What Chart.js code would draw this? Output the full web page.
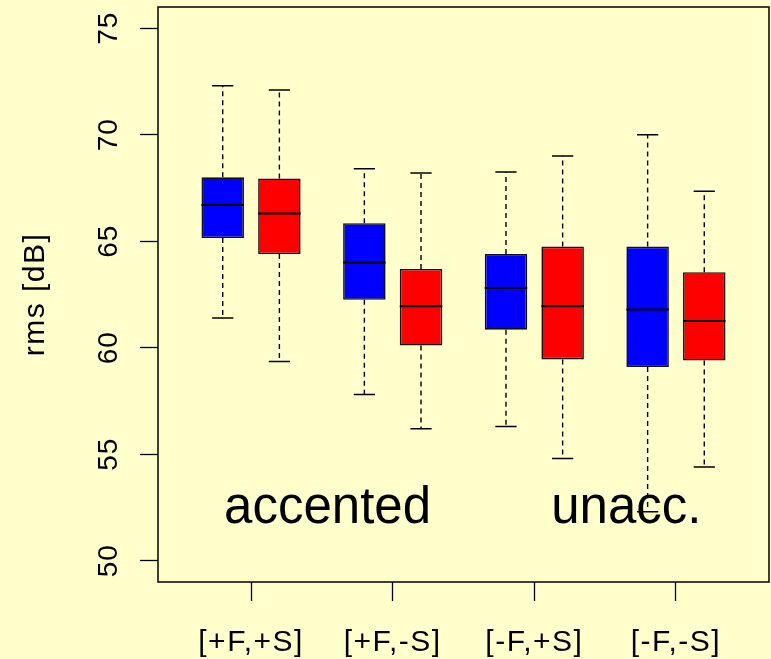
<!DOCTYPE html>
<html>
<head>
<meta charset="utf-8">
<script src="https://cdn.jsdelivr.net/npm/chart.js@4.4.1/dist/chart.umd.min.js"></script>
<style>
  html, body { margin: 0; padding: 0; background: #ffffcc; }
  canvas { display: block; }
</style>
</head>
<body>
<canvas id="chart" width="771" height="659"></canvas>
<script>
const categories = ['[+F,+S]', '[+F,-S]', '[-F,+S]', '[-F,-S]'];
const yTicks = [50, 55, 60, 65, 70, 75];

// first box of each pair (blue)
const blueLow  = [61.4, 57.8, 56.3, 52.3];
const blueQ1   = [65.15, 62.25, 60.85, 59.1];
const blueMed  = [66.7, 64.0, 62.8, 61.8];
const blueQ3   = [68.0, 65.85, 64.4, 64.75];
const blueHigh = [72.3, 68.4, 68.25, 70.0];

// second box of each pair (red)
const redLow  = [59.35, 56.2, 54.8, 54.4];
const redQ1   = [64.4, 60.1, 59.45, 59.4];
const redMed  = [66.3, 61.95, 61.95, 61.25];
const redQ3   = [67.95, 63.7, 64.75, 63.55];
const redHigh = [72.1, 68.2, 69.0, 67.35];

const groupNotes = ['accented', 'unacc.'];

const series = [
  {lo: blueLow, q1: blueQ1, med: blueMed, q3: blueQ3, hi: blueHigh},
  {lo: redLow, q1: redQ1, med: redMed, q3: redQ3, hi: redHigh}
];

function boxData(q1, q3) {
  return categories.map((c, i) => ({x: i + 1, y: [q1[i], q3[i]]}));
}

const FONT = '"Liberation Sans", Arial, sans-serif';

const boxExtras = {
  id: 'boxExtras',
  beforeDraw(chart) {
    // R's labels are a bit wider spaced than Arial
    chart.ctx.letterSpacing = '1.5px';
  },
  beforeDatasetsDraw(chart) {
    chart.ctx.letterSpacing = '0px';
  },
  afterDatasetsDraw(chart) {
    const ctx = chart.ctx;
    const ys = chart.scales.y;
    series.forEach((s, d) => {
      chart.getDatasetMeta(d).data.forEach((bar, i) => {
        const cx = bar.x, w = bar.width;
        ctx.save();
        ctx.strokeStyle = '#000';
        ctx.lineWidth = 1.4;
        ctx.setLineDash([5, 4]);
        ctx.beginPath();
        ctx.moveTo(cx, ys.getPixelForValue(s.q3[i]));
        ctx.lineTo(cx, ys.getPixelForValue(s.hi[i]));
        ctx.moveTo(cx, ys.getPixelForValue(s.q1[i]));
        ctx.lineTo(cx, ys.getPixelForValue(s.lo[i]));
        ctx.stroke();
        ctx.setLineDash([]);
        ctx.lineWidth = 1.5;
        ctx.beginPath();
        [s.hi[i], s.lo[i]].forEach(v => {
          const py = ys.getPixelForValue(v);
          ctx.moveTo(cx - w / 4, py);
          ctx.lineTo(cx + w / 4, py);
        });
        ctx.stroke();
        ctx.lineWidth = 2;
        ctx.beginPath();
        const my = ys.getPixelForValue(s.med[i]);
        ctx.moveTo(cx - w / 2, my);
        ctx.lineTo(cx + w / 2, my);
        ctx.stroke();
        ctx.restore();
      });
    });
  },
  afterDraw(chart) {
    const ctx = chart.ctx;
    const a = chart.chartArea;
    const xs = chart.scales.x, ys = chart.scales.y;
    ctx.save();
    ctx.letterSpacing = '0px';
    // frame
    ctx.strokeStyle = '#000';
    ctx.lineWidth = 1.5;
    ctx.strokeRect(a.left, a.top, a.right - a.left, a.bottom - a.top);
    // rotated y tick labels
    ctx.fillStyle = '#000';
    ctx.font = '28px ' + FONT;
    ctx.letterSpacing = '1px';
    ctx.textAlign = 'center';
    ctx.textBaseline = 'alphabetic';
    yTicks.forEach(v => {
      ctx.save();
      ctx.translate(117, ys.getPixelForValue(v));
      ctx.rotate(-Math.PI / 2);
      ctx.fillText(String(v), 0, 0);
      ctx.restore();
    });
    // group notes
    ctx.letterSpacing = '0px';
    ctx.font = '51px ' + FONT;
    ctx.fillText(groupNotes[0], xs.getPixelForValue(1.54), ys.getPixelForValue(51.75));
    ctx.fillText(groupNotes[1], xs.getPixelForValue(3.65), ys.getPixelForValue(51.75));
    ctx.restore();
  }
};

new Chart(document.getElementById('chart').getContext('2d'), {
  type: 'bar',
  data: {
    datasets: [
      {
        data: boxData(blueQ1, blueQ3),
        backgroundColor: '#0000ff',
        borderColor: '#111111',
        borderWidth: 1.6,
        borderSkipped: false
      },
      {
        data: boxData(redQ1, redQ3),
        backgroundColor: '#ff0000',
        borderColor: '#111111',
        borderWidth: 1.6,
        borderSkipped: false
      }
    ]
  },
  options: {
    responsive: false,
    animation: false,
    categoryPercentage: 0.8,
    barPercentage: 0.75,
    layout: { padding: { left: 0, top: 7, right: 2, bottom: 0 } },
    plugins: {
      legend: { display: false },
      tooltip: { enabled: false }
    },
    scales: {
      x: {
        type: 'linear',
        min: 0.343,
        max: 4.657,
        offset: false,
        afterBuildTicks(scale) {
          scale.ticks = categories.map((c, i) => ({value: i + 1}));
        },
        afterFit(scale) { scale.height = 77; },
        ticks: {
          autoSkip: false,
          maxRotation: 0,
          padding: 24,
          color: '#000',
          font: { family: FONT, size: 30 },
          callback: v => categories[v - 1]
        },
        grid: {
          offset: false,
          drawOnChartArea: false,
          tickLength: 19,
          tickWidth: 1.3,
          tickColor: '#000'
        },
        border: { display: false }
      },
      y: {
        min: 49,
        max: 76,
        afterBuildTicks(scale) {
          scale.ticks = yTicks.map(v => ({value: v}));
        },
        afterFit(scale) { scale.width = 158; },
        ticks: { display: false },
        grid: {
          drawOnChartArea: false,
          tickLength: 18,
          tickWidth: 1.3,
          tickColor: '#000'
        },
        border: { display: false },
        title: {
          display: true,
          text: 'rms [dB]',
          color: '#000',
          padding: { top: 18, bottom: 0 },
          font: { family: FONT, size: 30 }
        }
      }
    }
  },
  plugins: [boxExtras]
});
</script>
</body>
</html>
